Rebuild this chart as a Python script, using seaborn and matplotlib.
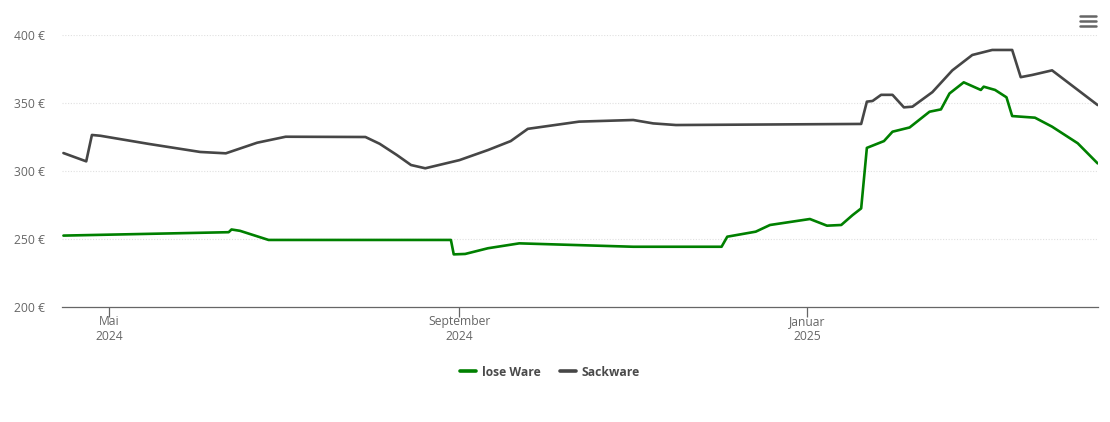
import matplotlib
matplotlib.use("Agg")
import matplotlib.pyplot as plt
import matplotlib.dates as mdates
from matplotlib.lines import Line2D
import seaborn as sns
import pandas as pd

# ---- data ----
sack_dates = ["2024-04-15", "2024-04-23", "2024-04-25", "2024-04-28", "2024-05-15",
              "2024-06-02", "2024-06-11", "2024-06-22", "2024-07-02", "2024-07-30",
              "2024-08-04", "2024-08-10", "2024-08-15", "2024-08-20", "2024-09-01", "2024-09-11",
              "2024-09-19", "2024-09-25", "2024-10-13", "2024-11-01", "2024-11-08", "2024-11-16", "2025-01-20",
              "2025-01-22", "2025-01-24", "2025-01-27", "2025-01-31", "2025-02-04",
              "2025-02-07", "2025-02-14", "2025-02-21", "2025-02-28", "2025-03-07",
              "2025-03-14", "2025-03-17", "2025-03-21", "2025-03-28", "2025-04-13"]
sack_values = [313.2, 307.1, 326.5, 325.9, 319.9,
               314.0, 313.0, 320.8, 325.2, 325.0,
               320.0, 311.8, 304.4, 302.0, 308.0, 315.4,
               322.0, 331.0, 336.3, 337.5, 335.0, 333.8, 334.6,
               351.0, 351.5, 356.0, 356.0, 346.8,
               347.3, 358.0, 374.0, 385.3, 389.0,
               389.0, 369.0, 370.6, 374.0, 348.5]

lose_dates = ["2024-04-15", "2024-06-12", "2024-06-13", "2024-06-16", "2024-06-26",
              "2024-08-29", "2024-08-30", "2024-09-03", "2024-09-11", "2024-09-22",
              "2024-11-01", "2024-12-02", "2024-12-04", "2024-12-14", "2024-12-19",
              "2025-01-02", "2025-01-08", "2025-01-13", "2025-01-17", "2025-01-20",
              "2025-01-22", "2025-01-28", "2025-01-31", "2025-02-06", "2025-02-13",
              "2025-02-17", "2025-02-20", "2025-02-25", "2025-03-03", "2025-03-04",
              "2025-03-08", "2025-03-12", "2025-03-14", "2025-03-22", "2025-03-28",
              "2025-04-06", "2025-04-13"]
lose_values = [252.5, 255.0, 257.0, 256.0, 249.3,
               249.3, 238.7, 239.0, 243.2, 246.8,
               244.3, 244.3, 251.7, 255.4, 260.3,
               264.7, 259.8, 260.3, 267.6, 272.5,
               317.0, 322.0, 328.9, 332.0, 343.6,
               345.3, 357.0, 365.2, 359.6, 362.0,
               359.6, 354.2, 340.4, 339.2, 332.6,
               320.4, 305.6]

series_names = ["lose Ware", "Sackware"]
series_colors = ["#008000", "#464646"]

tick_dates = ["2024-05-01", "2024-09-01", "2025-01-01"]
tick_labels = ["Mai\n2024", "September\n2024", "Januar\n2025"]
y_ticks = [200, 250, 300, 350, 400]
y_labels = ["200 €", "250 €", "300 €", "350 €", "400 €"]

# ---- build frame ----
df = pd.concat([
    pd.DataFrame({"date": pd.to_datetime(lose_dates), "price": lose_values, "series": series_names[0]}),
    pd.DataFrame({"date": pd.to_datetime(sack_dates), "price": sack_values, "series": series_names[1]}),
])

sns.set_style("white")
plt.rcParams["font.family"] = ["Open Sans", "DejaVu Sans"]

fig = plt.figure(figsize=(11.1, 4.22), dpi=100)
ax = fig.add_axes([62 / 1110, 1 - 307 / 422, (1098 - 62) / 1110, (307 - 35) / 422])

sns.lineplot(data=df, x="date", y="price", hue="series", hue_order=series_names,
             palette=series_colors, linewidth=1.9, ax=ax, legend=False)

ax.set_xlim(pd.Timestamp("2024-04-14 12:00"), pd.Timestamp("2025-04-13 03:00"))
ax.set_ylim(200, 400)

ax.set_yticks(y_ticks)
ax.set_yticklabels(y_labels)
ax.set_xticks(pd.to_datetime(tick_dates))
ax.set_xticklabels(tick_labels)

for v in y_ticks[1:]:
    ax.axhline(v, color="#e0e0e0", linewidth=0.8, linestyle=(0, (1, 1.5)), zorder=0)

for s in ["top", "right", "left"]:
    ax.spines[s].set_visible(False)
ax.spines["bottom"].set_color("#666666")
ax.spines["bottom"].set_linewidth(0.9)

ax.tick_params(axis="y", left=False, length=0, pad=12, labelsize=8.7, labelcolor="#666666")
ax.tick_params(axis="x", bottom=True, length=7, width=0.9, color="#666666", direction="out",
               pad=-1, labelsize=8.7, labelcolor="#666666")
ax.set_xlabel("")
ax.set_ylabel("")
ax.grid(False)

handles = [Line2D([0], [0], color=c, linewidth=2.6) for c in series_colors]
leg = fig.legend(handles, series_names, loc="center", bbox_to_anchor=(550 / 1110, 1 - 372 / 422),
                 ncol=2, frameon=False, handlelength=1.3, handletextpad=0.5, columnspacing=1.6,
                 prop={"size": 8.7, "weight": "bold"})
for t in leg.get_texts():
    t.set_color("#4a4a4a")

# menu icon
for yy in [16, 21, 26]:
    fig.add_artist(Line2D([1080 / 1110, 1096 / 1110], [1 - yy / 422, 1 - yy / 422],
                          color="#666666", linewidth=1.8, solid_capstyle="round"))

fig.savefig("out.png", dpi=100)
